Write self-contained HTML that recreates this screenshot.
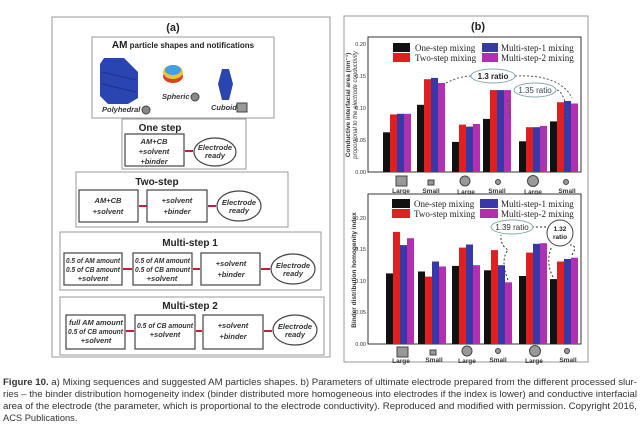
<!DOCTYPE html>
<html><head><meta charset="utf-8"><style>
html,body{margin:0;padding:0;background:#fff;width:640px;height:440px;overflow:hidden}
svg{display:block;font-family:"Liberation Sans",Arial,sans-serif}
.t{font-weight:bold;fill:#222}
.i{font-style:italic;font-weight:bold;fill:#333;font-size:7.5px}
.bx{fill:#fff;stroke:#444;stroke-width:1.2}
.ob{fill:#fff;stroke:#999;stroke-width:1}
.lg{font-family:"Liberation Serif",serif;font-size:9px;fill:#222}
.tk{font-size:5.5px;fill:#333}
.xl{font-size:6.5px;font-weight:bold;fill:#333}
.cap{font-size:9.3px;fill:#333}
</style></head><body>
<svg width="640" height="440" viewBox="0 0 640 440">
<!-- Panel a -->
<rect x="52" y="17" width="278" height="340" class="ob"/>
<text x="173" y="31" class="t" font-size="11" text-anchor="middle">(a)</text>
<rect x="92" y="37" width="182" height="81" class="ob"/>
<text x="183" y="48" class="t" font-size="8" text-anchor="middle"><tspan font-size="10">AM</tspan> particle shapes and notifications</text>
<path d="M104,58 L124,58 L138,72 L138,98 L128,104 L108,104 L100,96 L100,64 Z" fill="#2a45b0"/>
<path d="M102,72 L136,80 M102,84 L136,92" stroke="#1a2f90" stroke-width="1"/>
<ellipse cx="173" cy="76" rx="10" ry="7" fill="#e04020"/>
<ellipse cx="173" cy="72" rx="10" ry="7" fill="#f0c040"/>
<ellipse cx="173" cy="70" rx="8" ry="5" fill="#40a0e0"/>
<path d="M222,69 L229,69 L233,84 L229,100 L222,100 L218,84 Z" fill="#2a45b0"/>
<text x="102" y="112" class="i">Polyhedral</text><circle cx="146" cy="110" r="4" fill="#888" stroke="#444"/>
<text x="162" y="99" class="i">Spheric</text><circle cx="195" cy="97" r="4" fill="#888" stroke="#444"/>
<text x="211" y="110" class="i">Cuboid</text><rect x="237" y="103" width="10" height="9" fill="#999" stroke="#444"/>
<!-- One step -->
<rect x="122" y="119" width="124" height="50" class="ob"/>
<text x="160" y="131" class="t" font-size="10" text-anchor="middle">One step</text>
<rect x="125" y="134" width="59" height="32" class="bx"/>
<text x="154" y="144" class="i" text-anchor="middle">AM+CB</text><text x="154" y="154" class="i" text-anchor="middle">+solvent</text><text x="154" y="164" class="i" text-anchor="middle">+binder</text>
<path d="M185,151 L193,151" stroke="#c02040" stroke-width="2"/>
<ellipse cx="215" cy="152" rx="21" ry="14" class="bx"/>
<text x="215" y="150" class="i" text-anchor="middle">Electrode</text><text x="215" y="158" class="i" text-anchor="middle">ready</text>
<!-- Two step -->
<rect x="76" y="172" width="212" height="55" class="ob"/>
<text x="157" y="185" class="t" font-size="10" text-anchor="middle">Two-step</text>
<rect x="79" y="190" width="59" height="32" class="bx"/><text x="108" y="203" class="i" text-anchor="middle">AM+CB</text><text x="108" y="214" class="i" text-anchor="middle">+solvent</text>
<path d="M139,206 L147,206" stroke="#c02040" stroke-width="2"/>
<rect x="147" y="190" width="60" height="32" class="bx"/><text x="177" y="203" class="i" text-anchor="middle">+solvent</text><text x="177" y="214" class="i" text-anchor="middle">+binder</text>
<path d="M208,206 L216,206" stroke="#c02040" stroke-width="2"/>
<ellipse cx="239" cy="206" rx="22" ry="15" class="bx"/><text x="239" y="205" class="i" text-anchor="middle">Electrode</text><text x="239" y="213" class="i" text-anchor="middle">ready</text>
<!-- Multi-step 1 -->
<rect x="60" y="232" width="261" height="58" class="ob"/>
<text x="190" y="246" class="t" font-size="10" text-anchor="middle">Multi-step 1</text>
<rect x="64" y="253" width="58" height="32" class="bx"/><text x="66" y="263" class="i" font-size="6" textLength="54" lengthAdjust="spacingAndGlyphs">0.5 of AM amount</text><text x="66" y="272" class="i" font-size="6" textLength="54" lengthAdjust="spacingAndGlyphs">0.5 of CB amount</text><text x="93" y="281" class="i" text-anchor="middle">+solvent</text>
<path d="M123,269 L132,269" stroke="#c02040" stroke-width="2"/>
<rect x="133" y="253" width="59" height="32" class="bx"/><text x="135" y="263" class="i" font-size="6" textLength="55" lengthAdjust="spacingAndGlyphs">0.5 of AM amount</text><text x="135" y="272" class="i" font-size="6" textLength="55" lengthAdjust="spacingAndGlyphs">0.5 of CB amount</text><text x="162" y="281" class="i" text-anchor="middle">+solvent</text>
<path d="M193,269 L200,269" stroke="#c02040" stroke-width="2"/>
<rect x="201" y="253" width="59" height="32" class="bx"/><text x="231" y="266" class="i" text-anchor="middle">+solvent</text><text x="231" y="277" class="i" text-anchor="middle">+binder</text>
<path d="M261,269 L270,269" stroke="#c02040" stroke-width="2"/>
<ellipse cx="293" cy="269" rx="22" ry="15" class="bx"/><text x="293" y="268" class="i" text-anchor="middle">Electrode</text><text x="293" y="276" class="i" text-anchor="middle">ready</text>
<!-- Multi-step 2 -->
<rect x="60" y="297" width="264" height="58" class="ob"/>
<text x="190" y="309" class="t" font-size="10" text-anchor="middle">Multi-step 2</text>
<rect x="66" y="315" width="59" height="34" class="bx"/><text x="96" y="325" class="i" font-size="6" text-anchor="middle">full AM amount</text><text x="68" y="334" class="i" font-size="6" textLength="55" lengthAdjust="spacingAndGlyphs">0.5 of CB amount</text><text x="96" y="343" class="i" text-anchor="middle">+solvent</text>
<path d="M126,331 L134,331" stroke="#c02040" stroke-width="2"/>
<rect x="135" y="315" width="60" height="34" class="bx"/><text x="137" y="328" class="i" font-size="6" textLength="56" lengthAdjust="spacingAndGlyphs">0.5 of CB amount</text><text x="165" y="337" class="i" text-anchor="middle">+solvent</text>
<path d="M196,331 L202,331" stroke="#c02040" stroke-width="2"/>
<rect x="203" y="315" width="60" height="34" class="bx"/><text x="233" y="328" class="i" text-anchor="middle">+solvent</text><text x="233" y="339" class="i" text-anchor="middle">+binder</text>
<path d="M264,331 L272,331" stroke="#c02040" stroke-width="2"/>
<ellipse cx="295" cy="330" rx="22" ry="15" class="bx"/><text x="295" y="329" class="i" text-anchor="middle">Electrode</text><text x="295" y="337" class="i" text-anchor="middle">ready</text>

<!-- Panel b -->
<rect x="344" y="16" width="244" height="346" class="ob"/>
<text x="478" y="30" class="t" font-size="11" text-anchor="middle">(b)</text>
<rect x="368" y="37" width="213" height="135" fill="#fff" stroke="#333" stroke-width="1"/>
<g class="tk" text-anchor="end"><text x="366" y="174">0.00</text><text x="366" y="142">0.05</text><text x="366" y="110">0.10</text><text x="366" y="78">0.15</text><text x="366" y="46">0.20</text></g>
<text transform="translate(350,105) rotate(-90)" font-size="6.5" font-weight="bold" fill="#333" text-anchor="middle">Conductive interfacial area (nm⁻¹)</text>
<text transform="translate(357,105) rotate(-90)" font-size="6" font-style="italic" fill="#333" text-anchor="middle">proportional to the electrode conductivity</text>
<g>
<rect x="383" y="132.3" width="7" height="39.7" fill="#111"/><rect x="390" y="114.4" width="7" height="57.6" fill="#e02020"/><rect x="397" y="113.8" width="7" height="58.2" fill="#3838a8"/><rect x="404" y="113.8" width="7" height="58.2" fill="#b030b0"/>
<rect x="417" y="104.8" width="7" height="67.2" fill="#111"/><rect x="424" y="79.2" width="7" height="92.8" fill="#e02020"/><rect x="431" y="77.9" width="7" height="94.1" fill="#3838a8"/><rect x="438" y="83" width="7" height="89" fill="#b030b0"/>
<rect x="452" y="141.9" width="7" height="30.1" fill="#111"/><rect x="459" y="124.6" width="7" height="47.4" fill="#e02020"/><rect x="466" y="126.6" width="7" height="45.4" fill="#3838a8"/><rect x="473" y="124" width="7" height="48" fill="#b030b0"/>
<rect x="483" y="118.9" width="7" height="53.1" fill="#111"/><rect x="490" y="90.1" width="7" height="81.9" fill="#e02020"/><rect x="497" y="90.1" width="7" height="81.9" fill="#3838a8"/><rect x="504" y="90.1" width="7" height="81.9" fill="#b030b0"/>
<rect x="519" y="141.3" width="7" height="30.7" fill="#111"/><rect x="526" y="127.2" width="7" height="44.8" fill="#e02020"/><rect x="533" y="127.2" width="7" height="44.8" fill="#3838a8"/><rect x="540" y="125.9" width="7" height="46.1" fill="#b030b0"/>
<rect x="550" y="121.4" width="7" height="50.6" fill="#111"/><rect x="557" y="102.2" width="7" height="69.8" fill="#e02020"/><rect x="564" y="101" width="7" height="71" fill="#3838a8"/><rect x="571" y="103.5" width="7" height="68.5" fill="#b030b0"/>
</g>
<rect x="393" y="43" width="17" height="9" fill="#111"/><text x="415" y="51" class="lg">One-step mixing</text>
<rect x="393" y="53" width="17" height="9" fill="#e02020"/><text x="415" y="61" class="lg">Two-step mixing</text>
<rect x="482" y="43" width="16" height="9" fill="#3838a8"/><text x="501" y="51" class="lg">Multi-step-1 mixing</text>
<rect x="482" y="53" width="16" height="9" fill="#b030b0"/><text x="501" y="61" class="lg">Multi-step-2 mixing</text>
<path d="M446,83 Q460,76 472,76 M515,76 Q560,74 572,98 M508,100 Q510,115 510,118 M557,90 Q565,92 568,120" stroke="#555" stroke-dasharray="2,2" fill="none"/>
<ellipse cx="493" cy="76" rx="22" ry="7" fill="#fff" stroke="#8aa"/><text x="493" y="79" font-size="8" font-weight="bold" text-anchor="middle" fill="#222">1.3 ratio</text>
<ellipse cx="535" cy="90" rx="21" ry="7" fill="#fff" stroke="#8aa"/><text x="535" y="93" font-size="8" text-anchor="middle" fill="#345">1.35 ratio</text>
<rect x="396" y="176" width="11" height="10" fill="#999" stroke="#444"/><rect x="428" y="180" width="6" height="5" fill="#999" stroke="#444"/>
<circle cx="465" cy="181" r="5" fill="#999" stroke="#444"/><circle cx="498" cy="182" r="2.5" fill="#999" stroke="#444"/>
<circle cx="533" cy="181" r="5.5" fill="#999" stroke="#444"/><circle cx="566" cy="182" r="2.5" fill="#999" stroke="#444"/>
<g class="xl" text-anchor="middle"><text x="401" y="193">Large</text><text x="431" y="193">Small</text><text x="466" y="194">Large</text><text x="497" y="193">Small</text><text x="533" y="194">Large</text><text x="567" y="193">Small</text></g>
<rect x="368" y="194" width="213" height="150" fill="#fff" stroke="#333" stroke-width="1"/>
<g class="tk" text-anchor="end"><text x="366" y="346">0.00</text><text x="366" y="314">0.05</text><text x="366" y="283">0.10</text><text x="366" y="251">0.15</text><text x="366" y="220">0.20</text></g>
<text transform="translate(356,270) rotate(-90)" font-size="6.5" font-weight="bold" fill="#333" text-anchor="middle">Binder distribution homogenity index</text>
<g>
<rect x="386" y="273.4" width="7" height="70.6" fill="#111"/><rect x="393" y="231.9" width="7" height="112.1" fill="#e02020"/><rect x="400" y="245.1" width="7" height="98.9" fill="#3838a8"/><rect x="407" y="238.2" width="7" height="105.8" fill="#b030b0"/>
<rect x="418" y="271.5" width="7" height="72.5" fill="#111"/><rect x="425" y="276.6" width="7" height="67.4" fill="#e02020"/><rect x="432" y="261.5" width="7" height="82.5" fill="#3838a8"/><rect x="439" y="266.5" width="7" height="77.5" fill="#b030b0"/>
<rect x="452" y="265.9" width="7" height="78.1" fill="#111"/><rect x="459" y="247.6" width="7" height="96.4" fill="#e02020"/><rect x="466" y="244.5" width="7" height="99.5" fill="#3838a8"/><rect x="473" y="265.2" width="7" height="78.8" fill="#b030b0"/>
<rect x="484" y="270.3" width="7" height="73.7" fill="#111"/><rect x="491" y="250.1" width="7" height="93.9" fill="#e02020"/><rect x="498" y="265.2" width="7" height="78.8" fill="#3838a8"/><rect x="505" y="282.3" width="7" height="61.7" fill="#b030b0"/>
<rect x="519" y="276" width="7" height="68" fill="#111"/><rect x="526" y="252.6" width="7" height="91.4" fill="#e02020"/><rect x="533" y="243.8" width="7" height="100.2" fill="#3838a8"/><rect x="540" y="243.2" width="7" height="100.8" fill="#b030b0"/>
<rect x="550" y="279.1" width="7" height="64.9" fill="#111"/><rect x="557" y="261.5" width="7" height="82.5" fill="#e02020"/><rect x="564" y="259" width="7" height="85" fill="#3838a8"/><rect x="571" y="257.7" width="7" height="86.3" fill="#b030b0"/>
</g>
<rect x="392" y="199" width="18" height="9" fill="#111"/><text x="414" y="207" class="lg">One-step mixing</text>
<rect x="392" y="209" width="18" height="9" fill="#e02020"/><text x="414" y="217" class="lg">Two-step mixing</text>
<rect x="480" y="199" width="18" height="9" fill="#3838a8"/><text x="501" y="207" class="lg">Multi-step-1 mixing</text>
<rect x="480" y="209" width="18" height="9" fill="#b030b0"/><text x="501" y="217" class="lg">Multi-step-2 mixing</text>
<path d="M508,280 Q500,260 508,250 Q500,245 501,235 M532,227 L546,227 M553,277 Q545,262 552,246 M572,255 Q578,245 570,245" stroke="#333" stroke-dasharray="2,2" fill="none"/>
<ellipse cx="512" cy="227" rx="21" ry="7" fill="#fff" stroke="#8aa"/><text x="512" y="230" font-size="8" text-anchor="middle" fill="#333">1.39  ratio</text>
<circle cx="560" cy="233" r="13" fill="#fff" stroke="#444"/><text x="560" y="231" font-size="6.5" font-weight="bold" text-anchor="middle" fill="#222">1.32</text><text x="560" y="239" font-size="6.5" font-weight="bold" text-anchor="middle" fill="#222">ratio</text>
<rect x="397" y="347" width="11" height="10" fill="#999" stroke="#444"/><rect x="430" y="350" width="6" height="5" fill="#999" stroke="#444"/>
<circle cx="467" cy="351" r="5" fill="#999" stroke="#444"/><circle cx="498" cy="351" r="2.5" fill="#999" stroke="#444"/>
<circle cx="535" cy="351" r="5.5" fill="#999" stroke="#444"/><circle cx="567" cy="351" r="2.5" fill="#999" stroke="#444"/>
<g class="xl" text-anchor="middle"><text x="401" y="363">Large</text><text x="434" y="362">Small</text><text x="467" y="363">Large</text><text x="498" y="362">Small</text><text x="534" y="363">Large</text><text x="568" y="362">Small</text></g>

<g class="cap">
<text x="3" y="385" textLength="634" lengthAdjust="spacingAndGlyphs"><tspan font-weight="bold">Figure 10.</tspan> a) Mixing sequences and suggested AM particles shapes. b) Parameters of ultimate electrode prepared from the different processed slur-</text>
<text x="3" y="397" textLength="634" lengthAdjust="spacingAndGlyphs">ries – the binder distribution homogeneity index (binder distributed more homogeneous into electrodes if the index is lower) and conductive interfacial</text>
<text x="3" y="409" textLength="634" lengthAdjust="spacingAndGlyphs">area of the electrode (the parameter, which is proportional to the electrode conductivity). Reproduced and modified with permission. Copyright 2016,</text>
<text x="3" y="421">ACS Publications.</text>
</g>
</svg>
</body></html>
